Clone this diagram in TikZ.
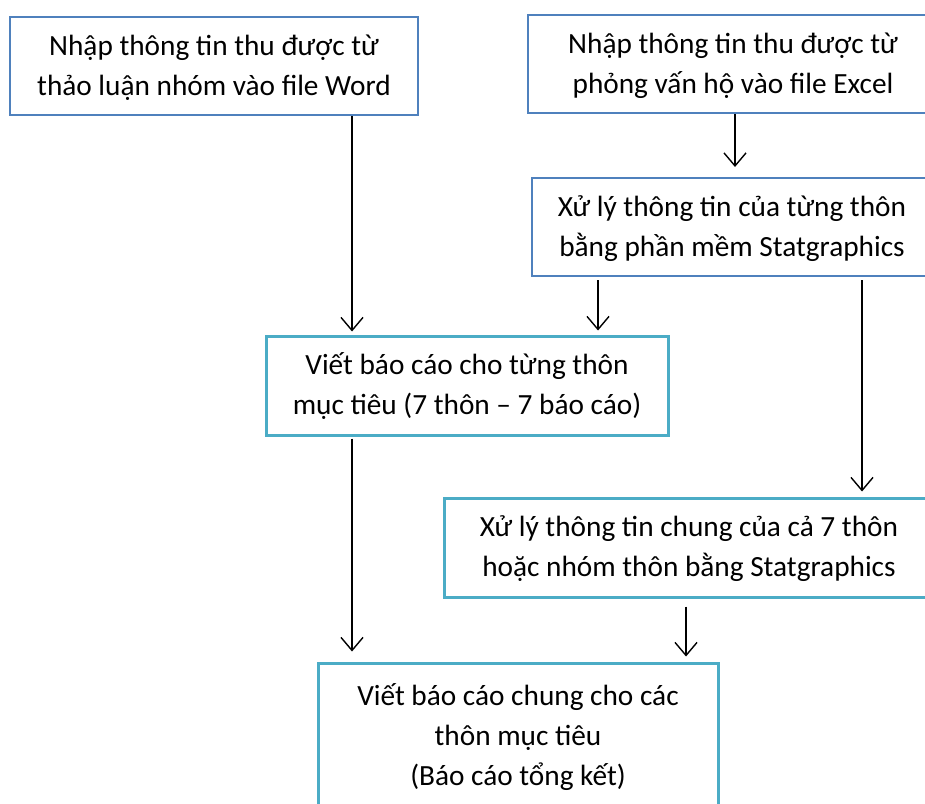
\documentclass[tikz,border=0pt]{standalone}
\usepackage{fontspec}
\setmainfont{Carlito}
\usetikzlibrary{arrows.meta}
\definecolor{boxblue}{HTML}{4F81BD}
\definecolor{boxteal}{HTML}{4BACC6}
\tikzset{
  flowbox/.style={draw, rectangle, align=center, inner sep=0pt, font=\fontsize{29.3}{40}\selectfont, fill=white},
  twoline/.style={text height=66pt, text depth=8pt},
  bluebox/.style={flowbox, draw=boxblue, line width=2pt},
  tealbox/.style={flowbox, draw=boxteal, line width=3pt},
  arr/.style={draw=black, line width=1.4pt, -{Straight Barb[length=13pt,width=22pt,line width=1.4pt]}}
}
\begin{document}
\begin{tikzpicture}[x=1pt,y=1pt]
\useasboundingbox (0,0) rectangle (925,-803);
\clip (0,0) rectangle (925,-803);
\fill[white] (0,0) rectangle (925,-803);
\node[bluebox, twoline, minimum width=408pt, minimum height=98pt] (b1) at (214,-66)
  {Nhập thông tin thu được từ\\thảo luận nhóm vào file Word};
\node[bluebox, twoline, minimum width=410pt, minimum height=98pt] (b2) at (733,-64)
  {Nhập thông tin thu được từ\\phỏng vấn hộ vào file Excel};
\node[bluebox, twoline, minimum width=400pt, minimum height=98pt] (b3) at (732,-227)
  {Xử lý thông tin của từng thôn\\bằng phần mềm Statgraphics};
\node[tealbox, twoline, minimum width=402pt, minimum height=99pt] (b4) at (467,-385.5)
  {Viết báo cáo cho từng thôn\\mục tiêu (7 thôn – 7 báo cáo)};
\node[tealbox, twoline, minimum width=490pt, minimum height=99pt] (b5) at (689,-547.5)
  {Xử lý thông tin chung của cả 7 thôn\\hoặc nhóm thôn bằng Statgraphics};
\node[tealbox, minimum width=400pt, minimum height=148pt] (b6) at (518,-737)
  {Viết báo cáo chung cho các\\thôn mục tiêu\\(Báo cáo tổng kết)};
\coordinate (xa) at (352,0);
\coordinate (xb) at (735,0);
\coordinate (xc) at (598,0);
\coordinate (xd) at (862,0);
\coordinate (xf) at (686,0);
\draw[arr, shorten >=3pt] (b1.south -| xa) -- (b4.north -| xa);
\draw[arr, shorten >=10pt] (b2.south -| xb) -- (b3.north -| xb);
\draw[arr, shorten <=3pt, shorten >=4pt] (b3.south -| xc) -- (b4.north -| xc);
\draw[arr, shorten <=3pt, shorten >=5pt] (b3.south -| xd) -- (b5.north -| xd);
\draw[arr, shorten <=2pt, shorten >=10pt] (b4.south -| xa) -- (b6.north -| xa);
\draw[arr, shorten <=8pt, shorten >=5pt] (b5.south -| xf) -- (b6.north -| xf);
\end{tikzpicture}
\end{document}
